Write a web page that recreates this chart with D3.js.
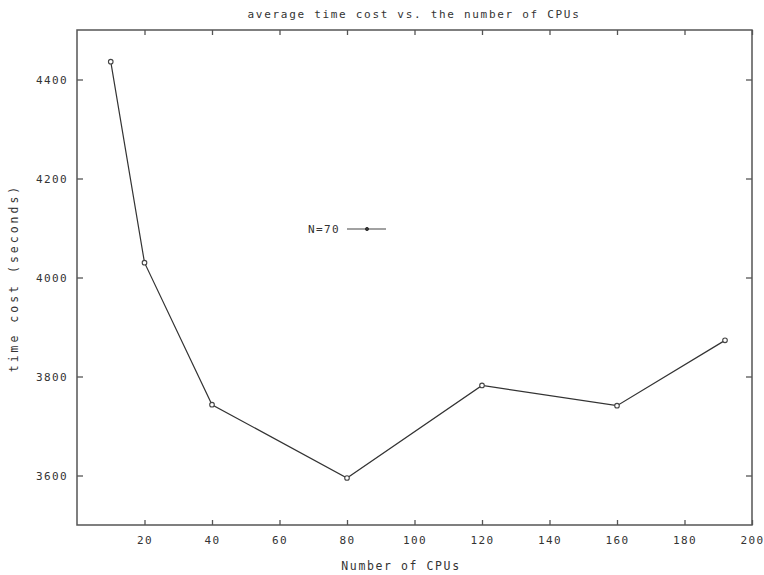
<!DOCTYPE html>
<html>
<head>
<meta charset="utf-8">
<script src="https://cdn.jsdelivr.net/npm/d3@7/dist/d3.min.js"></script>
<style>
  html, body { margin: 0; padding: 0; background: #fff; }
  svg text { font-family: "DejaVu Sans Mono", "Liberation Mono", monospace; fill: #333; }
</style>
</head>
<body>
<svg id="chart" width="764" height="575"></svg>
<script>
// Average run time for N=70 against the number of CPUs used
const cpus = [10, 20, 40, 80, 120, 160, 192];
const timeCost = [4436, 4030, 3743, 3595, 3782, 3741, 3873];
const xTicks = [20, 40, 60, 80, 100, 120, 140, 160, 180, 200];
const yTicks = [3600, 3800, 4000, 4200, 4400];
const seriesName = "N=70";

const width = 764, height = 575;
const margin = { top: 30, right: 12, bottom: 50, left: 77 };

const svg = d3.select("#chart");

const x = d3.scaleLinear().domain([0, 200]).range([margin.left, width - margin.right]);
const y = d3.scaleLinear().domain([3500, 4500]).range([height - margin.bottom, margin.top]);

const frameColor = "#555";

// plot frame
svg.append("rect")
  .attr("x", x(0)).attr("y", y(4500))
  .attr("width", x(200) - x(0)).attr("height", y(3500) - y(4500))
  .attr("fill", "none").attr("stroke", frameColor).attr("stroke-width", 1.5);

function styleAxis(g, showLabels, spacing) {
  g.select(".domain").remove();
  g.selectAll(".tick line").attr("stroke", frameColor).attr("stroke-width", 1.3);
  g.selectAll(".tick text")
    .attr("font-size", 11)
    .attr("letter-spacing", spacing)
    .style("display", showLabels ? null : "none");
}

// bottom axis with inward ticks
svg.append("g")
  .attr("transform", `translate(0,${y(3500)})`)
  .call(d3.axisBottom(x).tickValues(xTicks).tickSize(-5).tickPadding(11).tickFormat(d3.format("d")))
  .call(g => styleAxis(g, true, 1.4));

// mirrored top axis
svg.append("g")
  .attr("transform", `translate(0,${y(4500)})`)
  .call(d3.axisTop(x).tickValues(xTicks).tickSize(-5))
  .call(g => styleAxis(g, false, 0));

// left axis
svg.append("g")
  .attr("transform", `translate(${x(0)},0)`)
  .call(d3.axisLeft(y).tickValues(yTicks).tickSize(-6).tickPadding(9).tickFormat(d3.format("d")))
  .call(g => styleAxis(g, true, 1.4));

// mirrored right axis
svg.append("g")
  .attr("transform", `translate(${x(200)},0)`)
  .call(d3.axisRight(y).tickValues(yTicks).tickSize(-6))
  .call(g => styleAxis(g, false, 0));

// data line
const pts = cpus.map((c, i) => [c, timeCost[i]]);
svg.append("path")
  .datum(pts)
  .attr("fill", "none")
  .attr("stroke", "#333")
  .attr("stroke-width", 1.2)
  .attr("d", d3.line().x(d => x(d[0])).y(d => y(d[1])));

svg.append("g").selectAll("circle")
  .data(pts)
  .join("circle")
  .attr("cx", d => x(d[0])).attr("cy", d => y(d[1]))
  .attr("r", 2.3)
  .attr("fill", "#fff").attr("stroke", "#444").attr("stroke-width", 1.1);

// legend
const lgX = 347, lgY = 229;
svg.append("text")
  .attr("x", lgX - 7).attr("y", lgY + 4)
  .attr("text-anchor", "end")
  .attr("font-size", 11).attr("letter-spacing", 1.4)
  .text(seriesName);
svg.append("line")
  .attr("x1", lgX).attr("x2", lgX + 39).attr("y1", lgY).attr("y2", lgY)
  .attr("stroke", "#444").attr("stroke-width", 1.2);
svg.append("circle")
  .attr("cx", lgX + 20).attr("cy", lgY).attr("r", 1.6)
  .attr("fill", "#333").attr("stroke", "#333");

// titles
svg.append("text")
  .attr("x", 414).attr("y", 18)
  .attr("text-anchor", "middle")
  .attr("font-size", 11).attr("letter-spacing", 1.7)
  .text("average time cost vs. the number of CPUs");

svg.append("text")
  .attr("x", 401).attr("y", 570)
  .attr("text-anchor", "middle")
  .attr("font-size", 11.5).attr("letter-spacing", 1.6)
  .text("Number of CPUs");

svg.append("text")
  .attr("transform", `translate(18,278) rotate(-90)`)
  .attr("text-anchor", "middle")
  .attr("font-size", 11.5).attr("letter-spacing", 3)
  .text("time cost (seconds)");
</script>
</body>
</html>
